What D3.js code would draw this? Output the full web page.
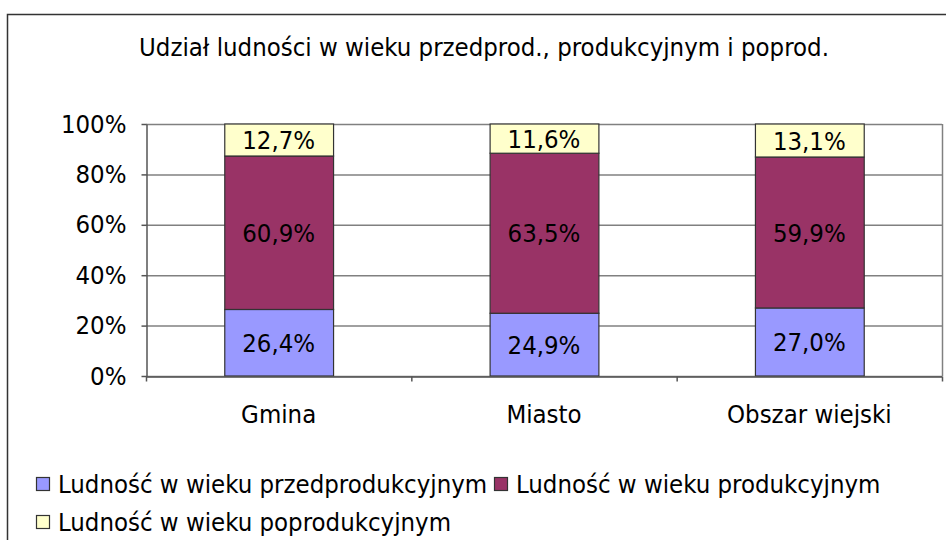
<!DOCTYPE html>
<html><head><meta charset="utf-8">
<script src="https://cdn.jsdelivr.net/npm/d3@7/dist/d3.min.js"></script>
<style>
body{margin:0;background:#fff;}
text{font-family:"DejaVu Sans Condensed","DejaVu Sans",sans-serif;font-stretch:condensed;fill:#000;}
</style></head>
<body><svg id="c" width="946" height="540"></svg>
<script>
const title = "Udział ludności w wieku przedprod., produkcyjnym i poprod.";
const categories = ["Gmina", "Miasto", "Obszar wiejski"];
const seriesNames = ["Ludność w wieku przedprodukcyjnym", "Ludność w wieku produkcyjnym", "Ludność w wieku poprodukcyjnym"];
const przed = [26.4, 24.9, 27.0];
const prod = [60.9, 63.5, 59.9];
const poprod = [12.7, 11.6, 13.1];
const yTicks = [0, 20, 40, 60, 80, 100];
const colors = ["#9999FF", "#993366", "#FFFFCC"];

const svg = d3.select("#c");
const FS = 25.5;
svg.append("rect").attr("x",0).attr("y",0).attr("width",946).attr("height",540).attr("fill","#fff");
svg.append("rect").attr("x",7.5).attr("y",14.5).attr("width",960).attr("height",560)
  .attr("fill","none").attr("stroke","#333").attr("stroke-width",1.5);

svg.append("text").attr("x",484).attr("y",56).attr("text-anchor","middle").attr("font-size",FS).text(title);

const L=146, R=942, T=124, B=376;
const x = d3.scaleBand().domain(categories).range([L,R]).paddingInner(0.59).paddingOuter(0.295);
const y = d3.scaleLinear().domain([0,100]).range([B,T]);
const xi = d3.scaleLinear().domain([0,categories.length]).range([L,R]);

// gridlines
svg.append("g").selectAll("line").data(yTicks).join("line")
  .attr("x1",L).attr("x2",R).attr("y1",d=>y(d)+0.5).attr("y2",d=>y(d)+0.5)
  .attr("stroke","#808080").attr("stroke-width",1.5);
// plot right border
svg.append("line").attr("x1",R+0.5).attr("x2",R+0.5).attr("y1",T).attr("y2",B).attr("stroke","#808080").attr("stroke-width",1.5);

const series = [przed, prod, poprod];
const stacked = categories.map((c,i)=>{let acc=0;return series.map((s,k)=>{const d={cat:c,k,v:s[i],y0:acc,y1:acc+s[i]};acc+=s[i];return d;});}).flat();

svg.append("g").selectAll("rect").data(stacked).join("rect")
  .attr("x",d=>x(d.cat)+0.5).attr("width",x.bandwidth())
  .attr("y",d=>y(Math.min(d.y1,100))).attr("height",d=>y(d.y0)-y(Math.min(d.y1,100)))
  .attr("fill",d=>colors[d.k]).attr("stroke","#333").attr("stroke-width",1.2);

svg.append("g").selectAll("text").data(stacked).join("text")
  .attr("x",d=>x(d.cat)+x.bandwidth()/2).attr("y",d=>(y(d.y0)+y(Math.min(d.y1,100)))/2)
  .attr("dy","0.36em").attr("text-anchor","middle").attr("font-size",FS)
  .text(d=>d.v.toFixed(1).replace(".",",")+"%");

// y axis
const ya = svg.append("g").attr("transform",`translate(${L+0.5},0)`)
  .call(d3.axisLeft(y).tickValues(yTicks).tickSize(5).tickSizeOuter(0).tickFormat(d=>d+"%").tickPadding(15));
ya.selectAll("text").attr("font-size",FS).attr("font-family",null);
ya.selectAll("line,path").attr("stroke","#555").attr("stroke-width",1.5);

// x axis tick marks at category boundaries
const xa = svg.append("g").attr("transform",`translate(0,${B+0.5})`)
  .call(d3.axisBottom(xi).tickValues(d3.range(categories.length+1)).tickSize(5).tickSizeOuter(0).tickFormat(""));
xa.selectAll("line,path").attr("stroke","#555").attr("stroke-width",1.5);
// category labels
const xl = svg.append("g").attr("transform",`translate(0,${B})`)
  .call(d3.axisBottom(x).tickSize(0).tickPadding(29));
xl.select("path").remove();
xl.selectAll("text").attr("font-size",FS).attr("font-family",null);

// legend
const legPos = [[36,484],[494,484],[36,522]];
const lg = svg.append("g").selectAll("g").data(seriesNames).join("g")
  .attr("transform",(d,i)=>`translate(${legPos[i][0]},${legPos[i][1]})`);
lg.append("rect").attr("x",0.5).attr("y",-6.5).attr("width",13).attr("height",13)
  .attr("fill",(d,i)=>colors[i]).attr("stroke","#333").attr("stroke-width",1.2);
lg.append("text").attr("x",22).attr("y",0).attr("dy","0.36em").attr("font-size",FS).text(d=>d);
</script></body></html>
